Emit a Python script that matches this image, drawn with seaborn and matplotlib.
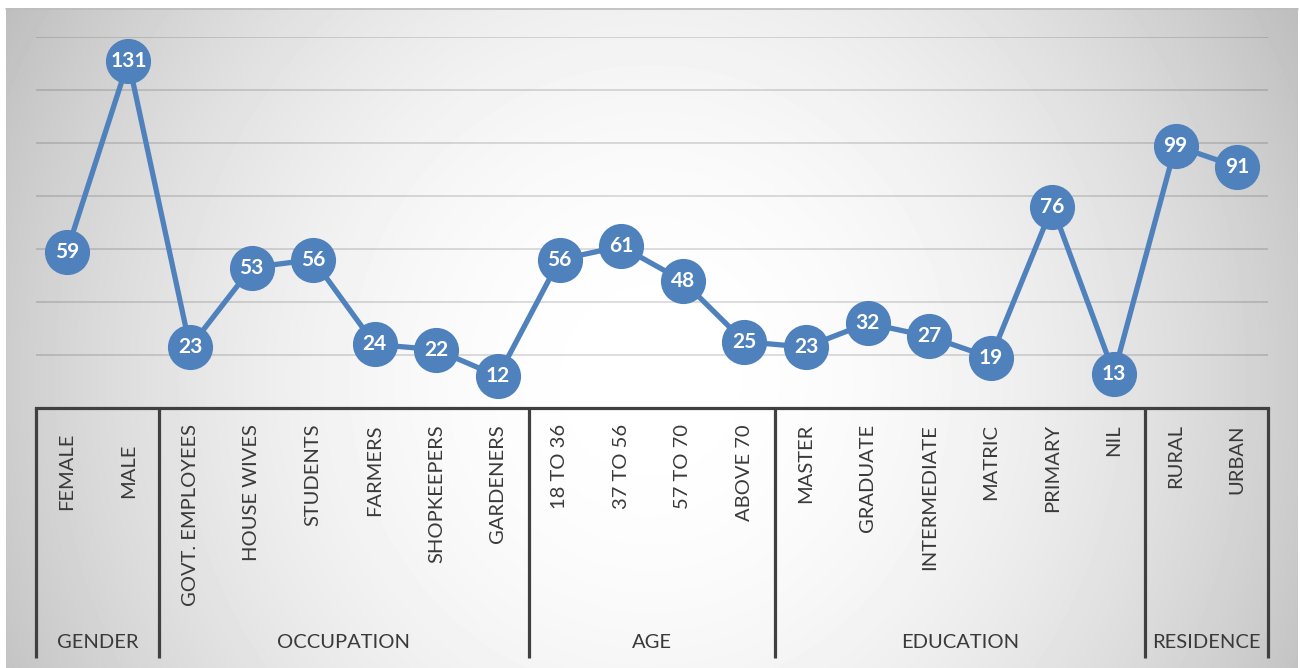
import numpy as np
import pandas as pd
import matplotlib
matplotlib.use("Agg")
import matplotlib.pyplot as plt
import seaborn as sns

# Survey respondents by profile attribute
groups = ["GENDER", "OCCUPATION", "AGE", "EDUCATION", "RESIDENCE"]
group_sizes = [2, 6, 4, 6, 2]
categories = [
    "FEMALE", "MALE",
    "GOVT. EMPLOYEES", "HOUSE WIVES", "STUDENTS", "FARMERS", "SHOPKEEPERS", "GARDENERS",
    "18 TO 36", "37 TO 56", "57 TO 70", "ABOVE 70",
    "MASTER", "GRADUATE", "INTERMEDIATE", "MATRIC", "PRIMARY", "NIL",
    "RURAL", "URBAN",
]
counts = [59, 131, 23, 53, 56, 24, 22, 12, 56, 61, 48, 25, 23, 32, 27, 19, 76, 13, 99, 91]

sns.set_theme(style="white")
plt.rcParams["font.family"] = ["Lato", "DejaVu Sans"]

W, H = 1300, 668
fig = plt.figure(figsize=(W / 100, H / 100), dpi=100)
fig.patch.set_facecolor("white")

# Radial grey-to-white backdrop behind the whole chart
bg = fig.add_axes([0, 0, 1, 1], zorder=-10)
bg.set_xlim(0, W)
bg.set_ylim(H, 0)
bg.axis("off")
yy, xx = np.mgrid[8:H, 6:1298]
r2 = ((xx - 650) / 650.0) ** 2 + ((yy - 380) / 680.0) ** 2
shade = np.clip(1 - 0.2 * r2, 0, 1)
bg.imshow(shade, cmap="gray", vmin=0, vmax=1, extent=(6, 1298, H, 8),
          aspect="auto", interpolation="bilinear")
bg.plot([6, 1298], [8.5, 8.5], color="#bdbdbd", lw=1.2)

# Plot area
left, right = 36, 1268
y0, ytop = 408, 37
ax = fig.add_axes([left / W, (H - y0) / H, (right - left) / W, (y0 - ytop) / H])
ax.patch.set_alpha(0)

df = pd.DataFrame({"pos": np.arange(len(categories)), "category": categories, "count": counts})
blue = "#4F81BD"
sns.lineplot(data=df, x="pos", y="count", ax=ax, color=blue, linewidth=3.8,
             marker="o", markersize=32.5, markeredgewidth=0, sort=False, zorder=3)

for p, v in zip(df["pos"], df["count"]):
    ax.text(p, v, str(v), ha="center", va="center", color="white",
            fontsize=15, fontweight="bold", zorder=5)

ax.set_xlim(-0.5, len(categories) - 0.5)
ax.set_ylim(0, 140)
ax.set_yticks(np.arange(20, 141, 20))
ax.yaxis.grid(True, color="black", alpha=0.17, linewidth=1.1)
ax.set_axisbelow(True)
ax.set_xticks([])
ax.set_yticklabels([])
ax.tick_params(left=False, bottom=False)
ax.set_xlabel("")
ax.set_ylabel("")
for s in ["left", "right", "top"]:
    ax.spines[s].set_visible(False)
ax.spines["bottom"].set_color("#404040")
ax.spines["bottom"].set_linewidth(2.3)

# Two-level category axis drawn below the plot
trans = ax.get_xaxis_transform()
text_color = "#3a3a3a"
axis_px = lambda ypx: (y0 - ypx) / (y0 - ytop)  # pixel row -> axes fraction

gender_set = {"FEMALE", "MALE"}
for p, c in zip(df["pos"], df["category"]):
    if c in gender_set:
        ax.text(p, axis_px(471), c, transform=trans, rotation=90, ha="center", va="center",
                fontsize=14.5, color=text_color, clip_on=False)
    else:
        ax.text(p, axis_px(424), c, transform=trans, rotation=90, ha="center", va="top",
                fontsize=14.5, color=text_color, clip_on=False)

bounds = np.concatenate([[0], np.cumsum(group_sizes)]) - 0.5
for b in bounds:
    ax.plot([b, b], [0, axis_px(658)], transform=trans, color="#404040",
            linewidth=2.3, clip_on=False, solid_capstyle="butt", zorder=4)
for g, a, b in zip(groups, bounds[:-1], bounds[1:]):
    ax.text((a + b) / 2, axis_px(643), g, transform=trans, ha="center", va="center",
            fontsize=14.5, color=text_color, clip_on=False)

fig.savefig("out.png", dpi=100)
